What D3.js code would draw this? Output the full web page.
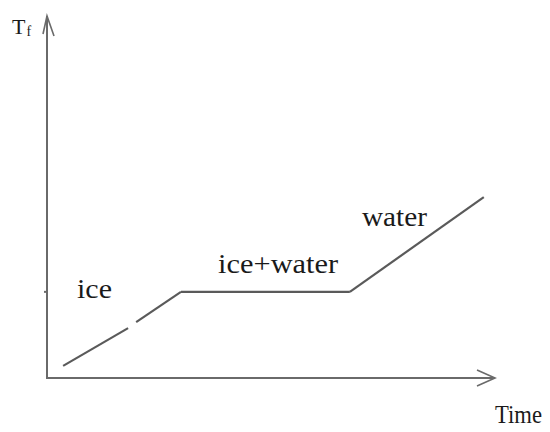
<!DOCTYPE html>
<html>
<head>
<meta charset="utf-8">
<script src="https://cdn.jsdelivr.net/npm/d3@7"></script>
<style>
  html, body { margin: 0; padding: 0; background: #fff; }
  svg { display: block; }
  text { font-family: "Liberation Serif", "Times New Roman", serif; fill: #1a1a1a; }
</style>
</head>
<body>
<svg id="chart" width="550" height="432"></svg>
<script>
// Heating curve of ice: temperature against time (arbitrary units, 0–100)
const iceLower   = [[3.6, 3.4], [18.1, 14.0]];   // ice warming (first stroke)
const iceUpper   = [[19.9, 15.7], [29.9, 24.2]]; // ice warming (second stroke)
const plateau    = [[29.9, 24.2], [67.6, 24.2]]; // ice + water at melting point
const waterRise  = [[67.6, 24.2], [97.5, 50.8]]; // water warming
const meltTemp   = 24.2;
const phaseLabels = [
  { text: "ice",       t: 6.7,  T: 22.5, len: 35 },
  { text: "ice+water", t: 38.2, T: 29.5, len: 120 },
  { text: "water",     t: 70.3, T: 42.7, len: 65 }
];
const yAxisLabel = "T";
const yAxisSub = "f";
const xAxisLabel = "Time";

const svg = d3.select("#chart");
const x = d3.scaleLinear().domain([0, 100]).range([47, 495]);
const y = d3.scaleLinear().domain([0, 100]).range([378, 22]);

const axisColor = "#6a6a6a";
const curveColor = "#5a5a5a";

// Axes drawn as plain arrows
svg.append("line")
  .attr("x1", x(0)).attr("y1", y(0)).attr("x2", x(0)).attr("y2", 16)
  .attr("stroke", axisColor).attr("stroke-width", 2);
svg.append("path")
  .attr("d", `M${x(0) - 4},34 L${x(0)},16 L${x(0) + 7},36`)
  .attr("fill", "none").attr("stroke", axisColor).attr("stroke-width", 1.6);

svg.append("line")
  .attr("x1", x(0) - 1).attr("y1", y(0)).attr("x2", x(100)).attr("y2", y(0))
  .attr("stroke", axisColor).attr("stroke-width", 2);
svg.append("path")
  .attr("d", `M${x(100) - 18},${y(0) - 8} L${x(100)},${y(0)} L${x(100) - 18},${y(0) + 8}`)
  .attr("fill", "none").attr("stroke", axisColor).attr("stroke-width", 1.6);

// Melting-point tick on the temperature axis
svg.append("line")
  .attr("x1", x(0) - 3).attr("x2", x(0))
  .attr("y1", y(meltTemp)).attr("y2", y(meltTemp))
  .attr("stroke", axisColor).attr("stroke-width", 2);

// Curve segments
const line = d3.line().x(d => x(d[0])).y(d => y(d[1]));
[iceLower, iceUpper, plateau, waterRise].forEach(seg => {
  svg.append("path")
    .attr("d", line(seg))
    .attr("fill", "none")
    .attr("stroke", curveColor)
    .attr("stroke-width", 2.2);
});

// Phase labels
svg.selectAll("text.phase")
  .data(phaseLabels)
  .join("text")
  .attr("class", "phase")
  .attr("x", d => x(d.t))
  .attr("y", d => y(d.T))
  .attr("font-size", 27)
  .attr("textLength", d => d.len)
  .attr("lengthAdjust", "spacingAndGlyphs")
  .text(d => d.text);

// Axis titles
const yt = svg.append("text").attr("x", 12).attr("y", 34).attr("font-size", 22);
yt.append("tspan").text(yAxisLabel);
yt.append("tspan").attr("font-size", 14).attr("dx", 1).attr("dy", 2).text(yAxisSub);

svg.append("text")
  .attr("x", 495).attr("y", 423)
  .attr("font-size", 26)
  .attr("textLength", 47)
  .attr("lengthAdjust", "spacingAndGlyphs")
  .text(xAxisLabel);
</script>
</body>
</html>
